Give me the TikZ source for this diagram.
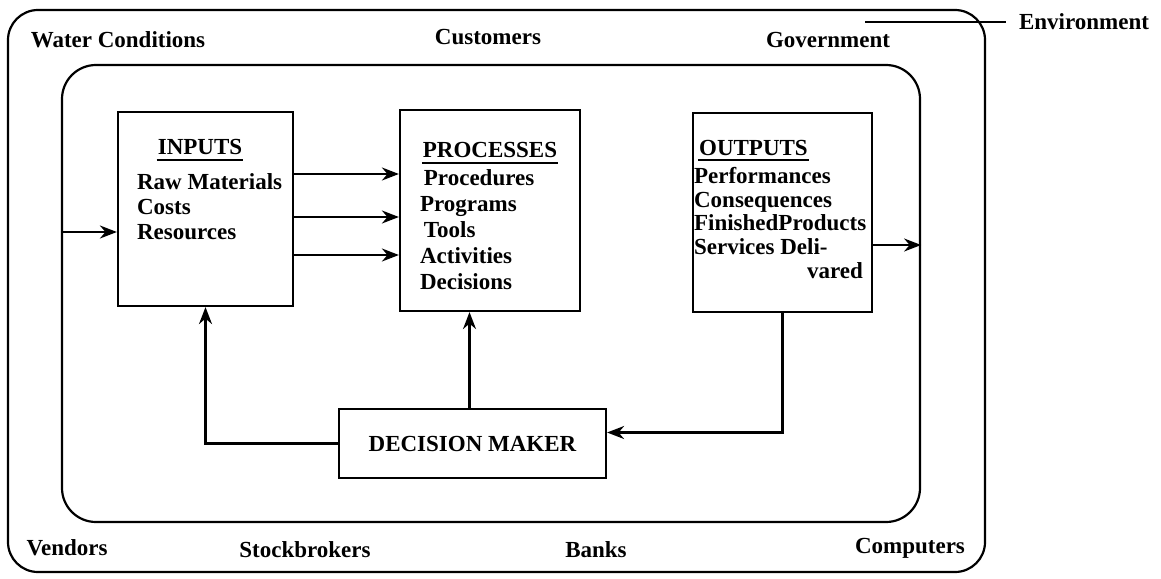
\documentclass[tikz,border=0pt]{standalone}
\usepackage{fontspec}
\setmainfont{Liberation Serif}
\usetikzlibrary{arrows.meta}
\begin{document}
\begin{tikzpicture}[x=1pt,y=-1pt, line width=2.2pt,
  lab/.style={font=\bfseries\fontsize{23}{23}\selectfont, inner sep=0pt},
  txt/.style={font=\bfseries\fontsize{23}{25}\selectfont, inner sep=0pt, anchor=west, align=left},
  box/.style={draw, rectangle, inner sep=0pt},
  arr/.style={-{Stealth[length=17pt,width=13pt]}}
]
\useasboundingbox (0,0) rectangle (1161,578);
% environment and system boundaries
\node[box, rounded corners=30pt, minimum width=977pt, minimum height=562pt] (env) at (496.5,291) {};
\node[box, rounded corners=34pt, minimum width=858pt, minimum height=457pt] (sys) at (491,293.5) {};
% environment labels
\node[lab] (water) at (118,40) {Water Conditions};
\node[lab] (cust) at (488,37) {Customers};
\node[lab] (gov) at (828,40) {Government};
\node[lab, anchor=west] (envl) at (1018,22) {Environment};
\coordinate (envc) at (865,22);
\draw[line width=1.8pt] (envc) -- ([xshift=-12pt]envl.west);
\node[lab] (vend) at (67,548) {Vendors};
\node[lab] (stock) at (305,550) {Stockbrokers};
\node[lab] (banks) at (596,550) {Banks};
\node[lab] (comp) at (910,548) {Computers};
% boxes
\node[box, minimum width=175pt, minimum height=194pt] (inp) at (205.5,209) {};
\node[box, minimum width=180pt, minimum height=201pt] (proc) at (490,210.5) {};
\node[box, minimum width=179pt, minimum height=199pt] (outp) at (782.5,212.5) {};
\node[box, minimum width=267pt, minimum height=69pt, font=\bfseries\fontsize{23}{23}\selectfont] (dm) at (472.5,443.5) {DECISION MAKER};
% inputs text
\node[lab] (tin) at (200,147) {INPUTS};
\draw ([yshift=-4pt]tin.south west) -- ([yshift=-4pt]tin.south east);
\node[txt] (lin) at (136,206.5) {Raw Materials\\Costs\\Resources};
% processes text
\node[lab] (tpr) at (490,150) {PROCESSES};
\draw ([yshift=-4pt]tpr.south west) -- ([yshift=-4pt]tpr.south east);
\node[txt, font=\bfseries\fontsize{23}{26}\selectfont] (lpr) at (419,230) {\,Procedures\\Programs\\\,Tools\\Activities\\Decisions};
% outputs text
\node[lab, anchor=west] (tout) at (698,148) {OUTPUTS};
\draw ([yshift=-3pt]tout.south west) -- ([yshift=-3pt]tout.south east);
\node[txt, font=\bfseries\fontsize{23}{23.5}\selectfont] (lout) at (693,211) {Performances\\Consequences\\FinishedProducts\\Services Deli-};
\node[lab, anchor=east] (vared) at (864,271) {vared};
% flows
\coordinate (ya) at (0,232);
\coordinate (y1) at (0,174);
\coordinate (y2) at (0,217);
\coordinate (y3) at (0,255);
\coordinate (yo) at (0,245);
\draw[arr] (sys.west |- ya) -- (inp.west |- ya);
\draw[arr] (inp.east |- y1) -- (proc.west |- y1);
\draw[arr] (inp.east |- y2) -- (proc.west |- y2);
\draw[arr] (inp.east |- y3) -- (proc.west |- y3);
\draw[arr] (outp.east |- yo) -- (sys.east |- yo);
\draw[arr] (dm.west) -| (inp.south);
\draw[arr] ([xshift=-3pt]dm.north) -- ([xshift=-3pt]dm.north |- proc.south);
\draw[arr] (outp.south) |- ([yshift=11pt]dm.east);
\end{tikzpicture}
\end{document}
